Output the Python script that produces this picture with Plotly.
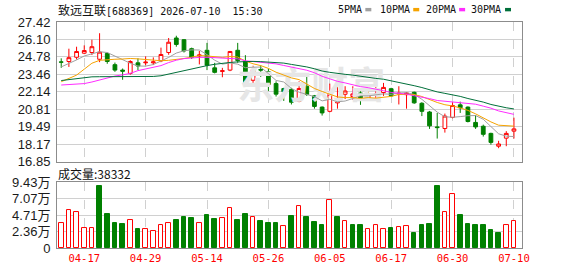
import plotly.graph_objects as go

# ---------------- data ----------------
dates = ["04-14", "04-15", "04-16", "04-17", "04-20", "04-21", "04-22", "04-23", "04-24", "04-27",
         "04-28", "04-29", "04-30", "05-06", "05-07", "05-08", "05-11", "05-12", "05-13", "05-14",
         "05-15", "05-18", "05-19", "05-20", "05-21", "05-22", "05-25", "05-26", "05-27", "05-28",
         "05-29", "06-01", "06-02", "06-03", "06-04", "06-05", "06-08", "06-09", "06-10", "06-11",
         "06-12", "06-15", "06-16", "06-17", "06-18", "06-22", "06-23", "06-24", "06-25", "06-26",
         "06-29", "06-30", "07-01", "07-02", "07-03", "07-06", "07-07", "07-08", "07-09", "07-10"]

tick_dates = ["04-17", "04-29", "05-14", "05-26", "06-05", "06-17", "06-30", "07-10"]

open_ = [24.40, 24.43, 24.75, 25.06, 25.11, 24.60, 25.04, 24.19, 23.78, 23.53,
         24.33, 24.33, 24.33, 24.48, 25.11, 26.21, 26.08, 25.40, 24.86, 25.28,
         23.95, 23.68, 23.78, 25.28, 24.43, 23.01, 23.83, 23.66, 22.76, 22.38,
         22.32, 21.42, 22.56, 21.83, 20.98, 20.66, 21.30, 21.95, 21.78, 22.05,
         21.64, 21.90, 22.08, 22.37, 21.98, 21.92, 22.10, 21.27, 20.61, 19.48,
         19.36, 20.20, 21.15, 20.98, 19.82, 19.53, 18.99, 18.02, 18.63, 19.16]
high = [24.67, 25.40, 25.55, 25.65, 26.08, 26.57, 25.11, 24.35, 23.90, 24.53,
        24.67, 24.82, 24.74, 25.48, 26.21, 26.38, 26.13, 25.48, 25.23, 25.84,
        24.33, 23.95, 25.23, 25.84, 24.91, 24.11, 24.14, 23.90, 22.93, 22.44,
        22.44, 22.93, 23.46, 21.90, 21.03, 22.76, 22.51, 22.56, 22.56, 22.20,
        22.39, 22.49, 22.81, 22.44, 22.56, 22.12, 22.15, 21.35, 20.69, 20.54,
        20.49, 21.35, 21.39, 21.03, 20.37, 19.65, 19.04, 18.43, 19.16, 20.18]
low = [23.95, 24.02, 24.58, 24.99, 24.92, 24.38, 24.26, 23.65, 23.05, 23.43,
       23.78, 24.14, 24.16, 24.38, 24.94, 25.55, 25.11, 24.62, 24.21, 23.78,
       23.53, 23.24, 23.70, 24.33, 22.68, 22.56, 23.27, 22.20, 21.78, 21.45,
       21.18, 21.35, 21.83, 20.86, 20.34, 20.59, 20.86, 21.59, 21.52, 21.15,
       21.47, 21.59, 21.83, 21.78, 21.18, 20.86, 21.23, 20.30, 19.33, 18.60,
       19.05, 20.13, 20.54, 19.82, 19.33, 18.75, 18.14, 17.87, 18.02, 18.60]
close = [24.38, 24.72, 25.19, 25.26, 25.55, 25.14, 24.43, 23.78, 23.70, 24.43,
         24.09, 24.38, 24.40, 24.96, 25.89, 25.72, 25.23, 24.75, 24.92, 24.14,
         23.61, 23.73, 25.19, 24.50, 22.76, 23.81, 23.78, 22.69, 21.96, 22.15,
         21.35, 22.39, 21.93, 21.03, 20.54, 21.95, 21.47, 22.20, 21.98, 21.54,
         21.95, 21.97, 22.47, 21.83, 22.03, 22.05, 21.30, 20.66, 19.56, 19.43,
         20.30, 21.10, 20.93, 19.89, 19.48, 18.92, 18.31, 18.19, 18.99, 19.33]
prev_close = 24.30  # close of the day before the window

ma5 = [24.02, 24.26, 24.55, 24.85, 25.02, 25.17, 25.11, 24.83, 24.52, 24.30,
       24.09, 24.08, 24.20, 24.45, 24.74, 25.07, 25.24, 25.31, 25.30, 24.95,
       24.53, 24.23, 24.32, 24.23, 23.96, 24.00, 24.01, 23.51, 23.00, 22.88,
       22.39, 22.11, 21.96, 21.77, 21.45, 21.57, 21.38, 21.44, 21.63, 21.83,
       21.83, 21.93, 21.98, 21.95, 22.05, 22.07, 21.94, 21.57, 21.12, 20.60,
       20.25, 20.21, 20.26, 20.33, 20.34, 20.06, 19.51, 18.96, 18.78, 18.75]
ma10 = [22.90, 23.15, 23.40, 23.85, 24.30, 24.52, 24.58, 24.60, 24.62, 24.66,
        24.63, 24.60, 24.52, 24.49, 24.52, 24.58, 24.66, 24.76, 24.88, 24.85,
        24.80, 24.74, 24.81, 24.77, 24.46, 24.26, 24.12, 23.91, 23.62, 23.42,
        23.19, 23.06, 22.73, 22.39, 22.16, 21.98, 21.75, 21.70, 21.70, 21.64,
        21.70, 21.66, 21.71, 21.79, 21.94, 21.95, 21.93, 21.78, 21.54, 21.33,
        21.16, 21.07, 20.92, 20.73, 20.47, 20.16, 19.86, 19.61, 19.55, 19.54]
ma20 = [22.65, 22.67, 22.70, 22.76, 22.88, 23.05, 23.20, 23.33, 23.42, 23.53,
        23.74, 23.88, 23.98, 24.12, 24.35, 24.53, 24.65, 24.72, 24.74, 24.75,
        24.71, 24.67, 24.67, 24.63, 24.49, 24.42, 24.39, 24.33, 24.25, 24.13,
        24.00, 23.90, 23.77, 23.58, 23.31, 23.12, 22.93, 22.81, 22.66, 22.53,
        22.45, 22.36, 22.22, 22.09, 22.05, 21.96, 21.84, 21.74, 21.62, 21.48,
        21.43, 21.36, 21.31, 21.26, 21.20, 21.05, 20.90, 20.69, 20.55, 20.43]
ma30 = [22.99, 23.06, 23.12, 23.18, 23.27, 23.28, 23.28, 23.28, 23.29, 23.29,
        23.29, 23.29, 23.30, 23.35, 23.48, 23.62, 23.77, 23.90, 24.00, 24.12,
        24.22, 24.30, 24.36, 24.40, 24.43, 24.44, 24.42, 24.38, 24.34, 24.31,
        24.21, 24.13, 24.02, 23.88, 23.71, 23.61, 23.51, 23.46, 23.40, 23.30,
        23.23, 23.15, 23.09, 22.98, 22.85, 22.73, 22.60, 22.46, 22.28, 22.13,
        22.02, 21.93, 21.79, 21.63, 21.52, 21.36, 21.18, 21.03, 20.93, 20.84]

volume = [35420, 53820, 51060, 28520, 28520, 88320, 48300, 35880, 34500, 39560,
          27600, 27140, 24840, 32660, 35420, 39560, 44160, 42780, 35880, 46920,
          41400, 42780, 56580, 40020, 48300, 44160, 39100, 36340, 36340, 31280,
          45540, 59340, 44160, 37720, 33120, 68540, 44160, 38640, 33120, 33120,
          27600, 32660, 27600, 28980, 29900, 31280, 20700, 33120, 34500, 88320,
          51980, 77280, 46920, 34500, 33120, 33120, 26220, 22080, 33120, 38332]

price_ticks = ["16.85", "18.17", "19.49", "20.81", "22.14", "23.46", "24.78", "26.10", "27.42"]
vol_tick_vals = [0, 23600, 47100, 70700, 94300]
vol_tick_text = ["0", "2.36万", "4.71万", "7.07万", "9.43万"]

title_name = "致远互联"
title_code = "[688369] 2026-07-10  15:30"
ma_names = ["5PMA", "10PMA", "20PMA", "30PMA"]
ma_colors = ["#a0a0a0", "#f5a300", "#ff2cff", "#006f3a"]
ma_series = [ma5, ma10, ma20, ma30]

RED = "#ff0000"
GREEN = "#008000"

# ---------------- figure ----------------
x = list(range(len(dates)))
tickvals = [dates.index(d) for d in tick_dates]
prevs = [prev_close] + close[:-1]
vol_up = [c >= p for c, p in zip(close, prevs)]

fig = go.Figure()

# watermark (under everything)
fig.add_trace(go.Scatter(
    x=[32.6], y=[22.3], mode="text", text=["东方财富"],
    textfont=dict(family="Noto Sans CJK SC", size=37, color="#e6e6e6", weight="bold"),
    hoverinfo="skip", showlegend=False, xaxis="x", yaxis="y"))

fig.add_trace(go.Candlestick(
    x=x, open=open_, high=high, low=low, close=close,
    increasing=dict(line=dict(color=RED, width=1), fillcolor="#ffffff"),
    decreasing=dict(line=dict(color=GREEN, width=1), fillcolor=GREEN),
    whiskerwidth=0, showlegend=False, hoverinfo="skip", xaxis="x", yaxis="y"))

for name, col, ser in zip(ma_names, ma_colors, ma_series):
    fig.add_trace(go.Scatter(x=x, y=ser, mode="lines", name=name,
                             line=dict(color=col, width=1), showlegend=False,
                             hoverinfo="skip", xaxis="x", yaxis="y"))

fig.add_trace(go.Bar(
    x=x, y=volume, width=0.6,
    marker=dict(color=["#ffffff" if u else GREEN for u in vol_up],
                line=dict(color=[RED if u else GREEN for u in vol_up], width=1)),
    showlegend=False, hoverinfo="skip", xaxis="x2", yaxis="y2"))

L, R, T, B = 56, 56, 22, 21
W, H = 578, 276
pw, ph = W - L - R, H - T - B


def px_x(px):
    return (px - L) / pw


def px_y(py):
    return (H - B - py) / ph


grid = "#d0d0d0"
border = "#8c8c8c"
xr = [-0.55, 60.05]

common_x = dict(range=xr, tickvals=tickvals, showgrid=True, gridcolor=grid, griddash="dash",
                gridwidth=1, zeroline=False, showline=True, mirror=True, linecolor=border,
                linewidth=1, ticks="", fixedrange=True)

fig.update_layout(
    width=W, height=H, margin=dict(l=L, r=R, t=T, b=B),
    paper_bgcolor="white", plot_bgcolor="white", showlegend=False, bargap=0,
    xaxis=dict(**common_x, anchor="y", showticklabels=False, rangeslider=dict(visible=False)),
    yaxis=dict(domain=[px_y(166), 1], range=[16.85, 27.42],
               tickvals=[float(t) for t in price_ticks], ticktext=price_ticks,
               showgrid=True, gridcolor=grid, zeroline=False, showline=True, mirror=True,
               linecolor=border, ticks="", ticklabelstandoff=3,
               tickfont=dict(family="Liberation Sans", size=13, color="#1a1a1a")),
    xaxis2=dict(**common_x, anchor="y2", ticktext=tick_dates, showticklabels=True,
                tickfont=dict(family="DejaVu Sans Mono", size=10.5, color=RED)),
    yaxis2=dict(domain=[0, px_y(187)], range=[0, 94300],
                tickvals=vol_tick_vals, ticktext=vol_tick_text,
                showgrid=True, gridcolor=grid, zeroline=False, showline=True, mirror=True,
                linecolor=border, ticks="", ticklabelstandoff=3,
                tickfont=dict(family="Liberation Sans, Noto Sans CJK SC", size=13, color="#1a1a1a")),
)

ann = []
ann.append(dict(
    xref="paper", yref="paper", x=px_x(55), y=px_y(9), xanchor="left", yanchor="middle",
    text=f'<span style="font-family:Noto Sans CJK SC;font-size:12px">{title_name}</span>{title_code}',
    showarrow=False, font=dict(family="DejaVu Sans Mono", size=10, color="#111111")))

ann.append(dict(
    xref="paper", yref="paper", x=px_x(55), y=px_y(178), xanchor="left", yanchor="middle",
    text=f"成交量:{volume[-1]}", showarrow=False,
    font=dict(family="Noto Sans CJK SC", size=12, color="#111111")))

legend_text_x = [336, 378, 423.5, 469]
legend_box_x = [365, 413, 459, 505]
shapes = []
for name, col, tx, bx in zip(ma_names, ma_colors, legend_text_x, legend_box_x):
    ann.append(dict(xref="paper", yref="paper", x=px_x(tx), y=px_y(9), xanchor="left",
                    yanchor="middle", text=name, showarrow=False,
                    font=dict(family="DejaVu Sans Mono", size=10, color="#111111")))
    shapes.append(dict(type="rect", xref="paper", yref="paper",
                       x0=px_x(bx), x1=px_x(bx + 6), y0=px_y(11), y1=px_y(7.5),
                       fillcolor=col, line=dict(width=0)))

fig.update_layout(annotations=ann, shapes=shapes)

fig.write_html("out.html")
